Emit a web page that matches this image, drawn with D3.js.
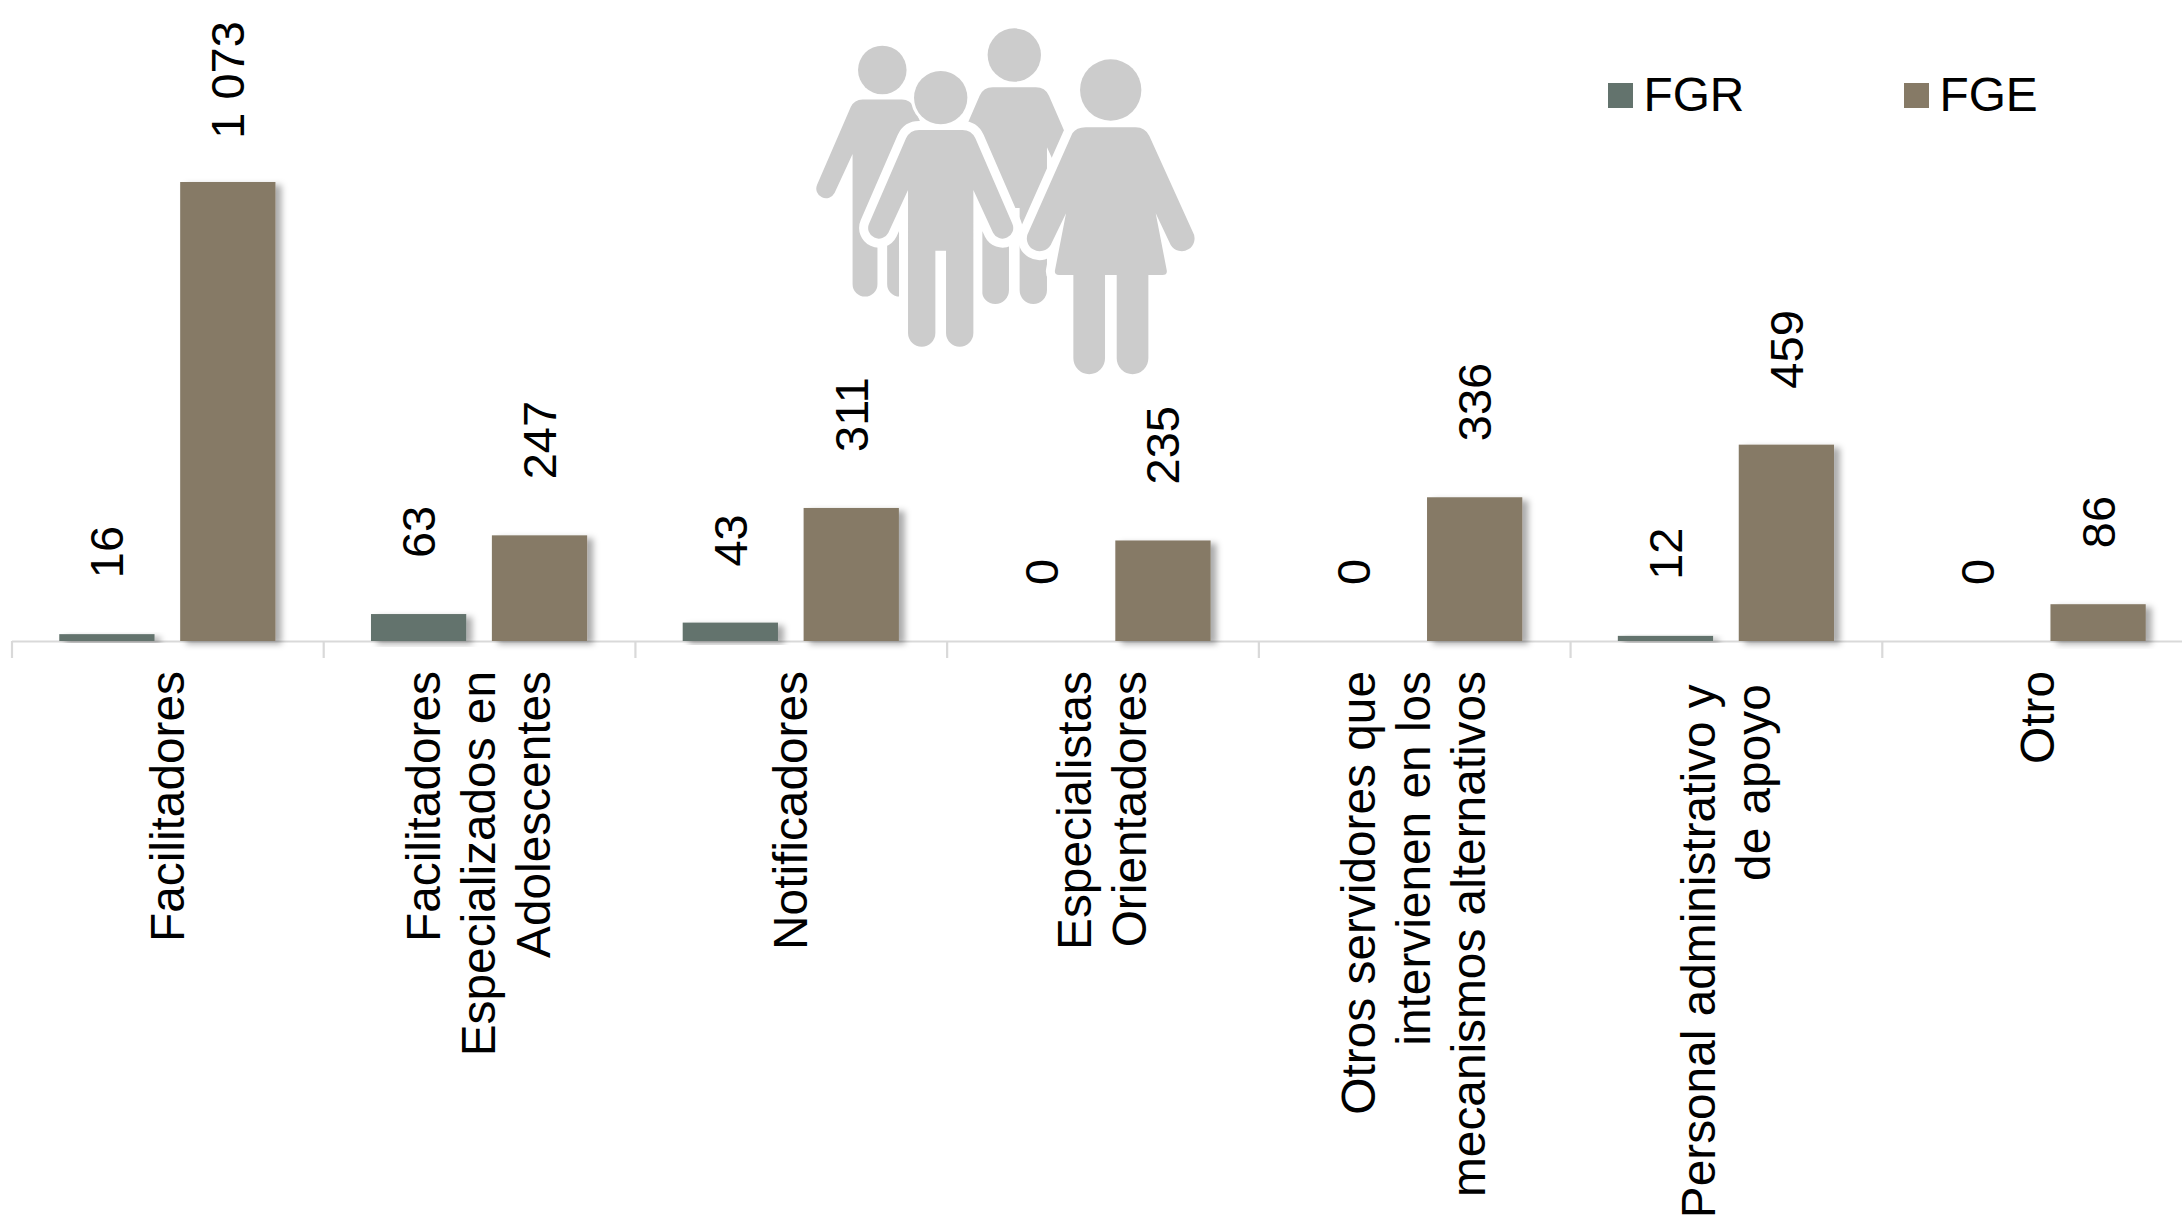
<!DOCTYPE html>
<html>
<head>
<meta charset="utf-8">
<script src="https://cdn.jsdelivr.net/npm/d3@7"></script>
<style>
html,body{margin:0;padding:0;background:#fff;overflow:hidden}
svg{display:block}
text{font-family:"Liberation Sans",Arial,sans-serif;fill:#000;white-space:pre}
</style>
</head>
<body>
<script>
const categories = [
  ["Facilitadores"],
  ["Facilitadores", "Especializados en", "Adolescentes"],
  ["Notificadores"],
  ["Especialistas", "Orientadores"],
  ["Otros servidores que", "intervienen en los", "mecanismos alternativos"],
  ["Personal administrativo y ", "de apoyo "],
  ["Otro"]
];
const seriesNames = ["FGR", "FGE"];
const fgrValues = [16, 63, 43, 0, 0, 12, 0];
const fgeValues = [1073, 247, 311, 235, 336, 459, 86];
const valueLabelsFGR = ["16", "63", "43", "0", "0", "12", "0"];
const valueLabelsFGE = ["1 073", "247", "311", "235", "336", "459", "86"];
const seriesColors = ["#63736d", "#867a66"];

const W = 2182, H = 1219, FS = 47.8, VFS = 47;
const svg = d3.select("body").append("svg").attr("width", W).attr("height", H).attr("viewBox", `0 0 ${W} ${H}`);

const defs = svg.append("defs");
const f = defs.append("filter").attr("id", "shadow").attr("x", "-20%").attr("y", "-20%").attr("width", "140%").attr("height", "140%");
f.append("feDropShadow").attr("dx", 6).attr("dy", 3).attr("stdDeviation", 3).attr("flood-color", "#000").attr("flood-opacity", 0.33);

const idx = d3.range(categories.length);
const x0 = d3.scaleBand().domain(idx).range([11.5, 2193.5]);
const x1 = d3.scaleBand().domain(seriesNames).range([0, x0.bandwidth()]).paddingInner(0.212).paddingOuter(0.395);
const y = d3.scaleLinear().domain([0, 1073]).range([641, 182]);
const tickScale = d3.scaleLinear().domain([0, categories.length]).range(x0.range());

// Icon
const manPath = "M-65,97 L65,97 Q92,97 104,122 L215,378 A32,32 0 0 1 157,405 L98,277 L98,706 A41,41 0 0 1 16,706 L16,459 L-16,459 L-16,706 A41,41 0 0 1 -98,706 L-98,277 L-157,405 A32,32 0 0 1 -215,378 L-104,122 Q-92,97 -65,97 Z";
const womanPath = "M-75,112 L75,112 Q103,112 116,138 L246,425 A35,35 0 0 1 180,465 L135,370 L168,540 Q171,555 155,555 L113,555 L113,805 A47,47 0 0 1 18,805 L18,555 L-17,555 L-17,805 A47,47 0 0 1 -112,805 L-112,555 L-155,555 Q-170,555 -167,540 L-134,370 L-180,465 A35,35 0 0 1 -246,425 L-115,130 Q-103,112 -75,112 Z";
const figures = [
  {hx: 882.3, hy: 70, s: 0.91 / 3, r: 80, d: manPath, halo: 0},
  {hx: 1014.3, hy: 55, s: 1 / 3, r: 80, d: manPath, halo: 0},
  {hx: 940.7, hy: 97.7, s: 1 / 3, r: 80, d: manPath, halo: 54},
  {hx: 1110.7, hy: 90, s: 1 / 3, r: 92, d: womanPath, halo: 54}
];
const icon = svg.append("g").attr("class", "icon");
const figG = icon.selectAll("g").data(figures).join("g")
  .attr("transform", d => `translate(${d.hx},${d.hy}) scale(${d.s})`);
figG.append("path").attr("d", d => d.d).attr("fill", "#cccccc")
  .attr("stroke", d => d.halo ? "#fff" : "none").attr("stroke-width", d => d.halo)
  .attr("stroke-linejoin", "round").attr("paint-order", "stroke");
figG.append("circle").attr("r", d => d.r).attr("fill", "#cccccc")
  .attr("stroke", d => d.halo ? "#fff" : "none").attr("stroke-width", d => d.halo * 0.35)
  .attr("paint-order", "stroke");

// Axis
const axis = d3.axisBottom(tickScale).tickValues(d3.range(categories.length + 1)).tickFormat("").tickSize(17).tickSizeOuter(0);
const axisG = svg.append("g").attr("transform", `translate(0,${y(0)})`).call(axis);
axisG.selectAll("path,line").attr("stroke", "#d9d9d9").attr("stroke-width", 2.2);

// Bars
const rows = idx.flatMap(i => [
  {i, s: "FGR", v: fgrValues[i], label: valueLabelsFGR[i], c: seriesColors[0]},
  {i, s: "FGE", v: fgeValues[i], label: valueLabelsFGE[i], c: seriesColors[1]}
]);
svg.append("g").selectAll("rect").data(rows.filter(d => d.v > 0)).join("rect")
  .attr("x", d => x0(d.i) + x1(d.s))
  .attr("y", d => y(d.v))
  .attr("width", x1.bandwidth())
  .attr("height", d => y(0) - y(d.v))
  .attr("fill", d => d.c)
  .attr("filter", "url(#shadow)");

// Value labels
svg.append("g").selectAll("text").data(rows).join("text")
  .attr("font-size", VFS)
  .attr("text-anchor", "middle")
  .attr("dy", "0.35em")
  .text(d => d.label)
  .attr("transform", function(d) {
    const cx = x0(d.i) + x1(d.s) + x1.bandwidth() / 2;
    const w = this.getComputedTextLength();
    const cy = Math.max(y(d.v) - 56 - w / 2, 80);
    return `translate(${cx},${cy}) rotate(-90)`;
  });

// Category labels
const lineH = 55;
const catG = svg.append("g").selectAll("g").data(idx).join("g")
  .attr("transform", i => `translate(${x0(i) + x0.bandwidth() / 2 - 0.5},671) rotate(-90)`);
catG.each(function(i) {
  const lines = categories[i];
  d3.select(this).selectAll("text").data(lines).join("text")
    .attr("font-size", FS)
    .attr("text-anchor", "end")
    .attr("y", (d, k) => (k - (lines.length - 1) / 2) * lineH)
    .attr("dy", "0.35em")
    .text(d => d);
});

// Legend
const legendX = d3.scaleOrdinal().domain(seriesNames).range([1608, 1904]);
const leg = svg.append("g").selectAll("g").data(seriesNames).join("g")
  .attr("transform", d => `translate(${legendX(d)},0)`);
leg.append("rect").attr("y", 83).attr("width", 25).attr("height", 25).attr("fill", (d, i) => seriesColors[i]);
leg.append("text").attr("x", 35.5).attr("y", 110.5).attr("font-size", FS).text(d => d);
</script>
</body>
</html>
